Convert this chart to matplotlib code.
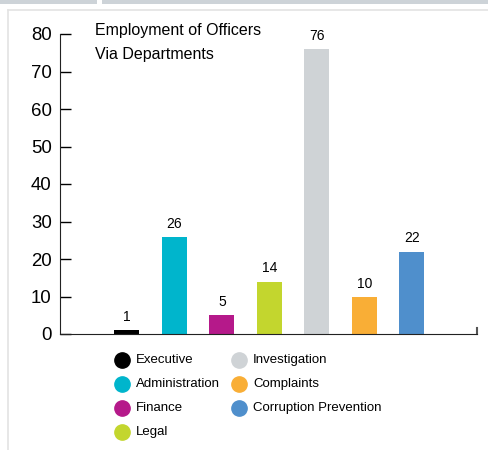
import matplotlib.pyplot as plt
from matplotlib.lines import Line2D
from matplotlib.patches import Rectangle

plt.rcParams['font.family'] = ['Liberation Sans', 'DejaVu Sans']

departments = ['Executive', 'Administration', 'Finance', 'Legal',
               'Investigation', 'Complaints', 'Corruption Prevention']
officers = [1, 26, 5, 14, 76, 10, 22]
colours = ['#000000', '#00b5cc', '#b5198a', '#c3d62e',
           '#cfd3d6', '#f9ae36', '#4f8fcc']
y_ticks = [0, 10, 20, 30, 40, 50, 60, 70, 80]

W, H = 488, 450
fig = plt.figure(figsize=(W / 100, H / 100), dpi=100)

# page furniture: grey strip on top and a faint panel border
fig.add_artist(Rectangle((0, 1 - 4 / H), 97 / W, 4 / H, transform=fig.transFigure,
                         color='#cdd3d8', lw=0))
fig.add_artist(Rectangle((102 / W, 1 - 4 / H), 1, 4 / H, transform=fig.transFigure,
                         color='#cdd3d8', lw=0))
fig.add_artist(Line2D([8 / W, 8 / W], [0, 1 - 10 / H], transform=fig.transFigure,
                      color='#e3e3e3', lw=1.2))
fig.add_artist(Line2D([8 / W, 1], [1 - 10 / H, 1 - 10 / H], transform=fig.transFigure,
                      color='#e3e3e3', lw=1.2))

ax = fig.add_axes([60 / W, (H - 334) / H, (477 - 60) / W, 300 / H])
x = list(range(len(departments)))
ax.bar(x, officers, width=0.525, color=colours)
for xi, v in zip(x, officers):
    ax.text(xi, v + 1.6, str(v), ha='center', va='bottom', fontsize=10)

ax.set_xlim(-1.41, 6 + 1.37)
ax.set_ylim(0, 80)
ax.set_yticks(y_ticks)
ax.tick_params(axis='y', direction='in', length=8, width=1, labelsize=13.4, pad=6)
ax.set_xticks([])
for side in ['top', 'right']:
    ax.spines[side].set_visible(False)
ax.spines['left'].set_color('#222222')
ax.spines['bottom'].set_color('#222222')
ax.plot([6 + 1.37, 6 + 1.37], [0, 1.6], color='#555555', lw=1.5, clip_on=False)

fig.text(95 / W, 1 - 31 / H, 'Employment of Officers', fontsize=11.5, va='center')
fig.text(95 / W, 1 - 55 / H, 'Via Departments', fontsize=11.5, va='center')

# legend, two columns filled top to bottom
for i, (name, c) in enumerate(zip(departments, colours)):
    col, row = divmod(i, 4)
    cx = 122 + col * 117
    cy = 360 + row * 24
    fig.add_artist(Line2D([cx / W], [1 - cy / H], transform=fig.transFigure,
                          marker='o', markersize=11, color=c, lw=0))
    fig.text((cx + 14) / W, 1 - cy / H, name, fontsize=9.5, va='center')

fig.savefig('out.png', dpi=100)
